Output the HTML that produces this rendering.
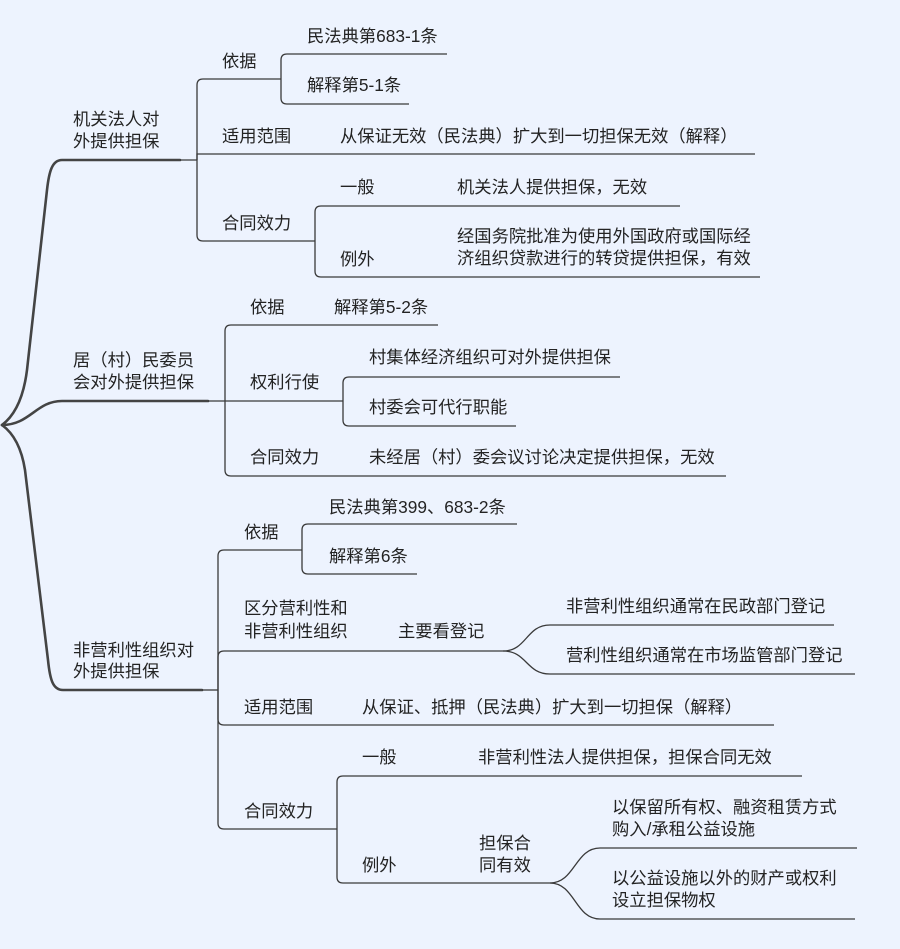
<!DOCTYPE html>
<html>
<head>
<meta charset="utf-8">
<style>
html,body{margin:0;padding:0;background:#edf3fe;}
svg{display:block;}
text{font-family:"Liberation Sans","Noto Sans CJK SC",sans-serif;font-size:17.3px;fill:#232323;}
.t{fill:none;stroke:#3a3a3a;stroke-width:1.3;}
.k{fill:none;stroke:#444;stroke-width:2.6;stroke-linecap:round;}
</style>
</head>
<body>
<svg width="900" height="949" viewBox="0 0 900 949" xmlns="http://www.w3.org/2000/svg">
<rect width="900" height="949" fill="#edf3fe"/>

<!-- root curves -->
<path class="k" d="M2,425 Q22,410 27,370 L47,190 C49,172 52,160 62,160 L180,160"/>
<path class="k" d="M2,425 C30,425 36,401 62,401 L208,401"/>
<path class="k" d="M2,425 Q20,438 25,470 L48,660 C50,680 53,690 63,690 L202,690"/>

<!-- section 1 -->
<path class="t" d="M180,160 L197,160"/>
<path class="t" d="M197,160 L197,85 Q197,79 203,79 L281,79"/>
<path class="t" d="M197,160 L197,154 L755,154"/>
<path class="t" d="M197,160 L197,235 Q197,241 203,241 L315,241"/>
<path class="t" d="M281,79 L281,60 Q281,54 287,54 L447,54"/>
<path class="t" d="M281,79 L281,98 Q281,104 287,104 L409,104"/>
<path class="t" d="M315,241 L315,212 Q315,206 321,206 L680,206"/>
<path class="t" d="M315,241 L315,271 Q315,277 321,277 L760,277"/>

<text x="73" y="125">机关法人对</text>
<text x="73" y="147">外提供担保</text>
<text x="222" y="67">依据</text>
<text x="307" y="42">民法典第683-1条</text>
<text x="307" y="91">解释第5-1条</text>
<text x="222" y="142">适用范围</text>
<text x="340" y="142">从保证无效（民法典）扩大到一切担保无效（解释）</text>
<text x="340" y="193">一般</text>
<text x="457" y="193">机关法人提供担保，无效</text>
<text x="222" y="229">合同效力</text>
<text x="340" y="265">例外</text>
<text x="457" y="242">经国务院批准为使用外国政府或国际经</text>
<text x="457" y="264">济组织贷款进行的转贷提供担保，有效</text>

<!-- section 2 -->
<path class="t" d="M208,401 L225,401"/>
<path class="t" d="M225,401 L225,331 Q225,325 231,325 L438,325"/>
<path class="t" d="M225,401 L343,401"/>
<path class="t" d="M225,401 L225,470 Q225,476 231,476 L726,476"/>
<path class="t" d="M343,401 L343,383 Q343,377 349,377 L620,377"/>
<path class="t" d="M343,401 L343,420 Q343,426 349,426 L516,426"/>

<text x="73" y="366">居（村）民委员</text>
<text x="73" y="388">会对外提供担保</text>
<text x="250" y="313">依据</text>
<text x="334" y="313">解释第5-2条</text>
<text x="250" y="388">权利行使</text>
<text x="369" y="363">村集体经济组织可对外提供担保</text>
<text x="369" y="413">村委会可代行职能</text>
<text x="250" y="463">合同效力</text>
<text x="369" y="463">未经居（村）委会议讨论决定提供担保，无效</text>

<!-- section 3 -->
<path class="t" d="M202,690 L218,690"/>
<path class="t" d="M218,690 L218,556 Q218,550 224,550 L302,550"/>
<path class="t" d="M218,690 L218,657 Q218,651 224,651 L503,651"/>
<path class="t" d="M218,690 L218,719 Q218,725 224,725 L774,725"/>
<path class="t" d="M218,690 L218,823 Q218,829 224,829 L337,829"/>
<path class="t" d="M302,550 L302,530 Q302,524 308,524 L517,524"/>
<path class="t" d="M302,550 L302,568 Q302,574 308,574 L417,574"/>
<path class="t" d="M503,651 C527,651 526,625 550,625 L834,625"/>
<path class="t" d="M503,651 C527,651 526,674 550,674 L855,674"/>
<path class="t" d="M337,829 L337,782 Q337,776 343,776 L802,776"/>
<path class="t" d="M337,829 L337,877 Q337,883 343,883 L550,883"/>
<path class="t" d="M550,883 C575,883 575,848 600,848 L857,848"/>
<path class="t" d="M550,883 C575,883 575,919 600,919 L855,919"/>

<text x="73" y="656">非营利性组织对</text>
<text x="73" y="677">外提供担保</text>
<text x="244" y="538">依据</text>
<text x="329" y="513">民法典第399、683-2条</text>
<text x="329" y="562">解释第6条</text>
<text x="244" y="614">区分营利性和</text>
<text x="244" y="637">非营利性组织</text>
<text x="398" y="637">主要看登记</text>
<text x="566" y="612">非营利性组织通常在民政部门登记</text>
<text x="566" y="661">营利性组织通常在市场监管部门登记</text>
<text x="244" y="713">适用范围</text>
<text x="362" y="713">从保证、抵押（民法典）扩大到一切担保（解释）</text>
<text x="362" y="763">一般</text>
<text x="478" y="763">非营利性法人提供担保，担保合同无效</text>
<text x="244" y="817">合同效力</text>
<text x="362" y="871">例外</text>
<text x="479" y="849">担保合</text>
<text x="479" y="871">同有效</text>
<text x="612" y="813">以保留所有权、融资租赁方式</text>
<text x="612" y="835">购入/承租公益设施</text>
<text x="612" y="884">以公益设施以外的财产或权利</text>
<text x="612" y="906">设立担保物权</text>
</svg>
</body>
</html>
